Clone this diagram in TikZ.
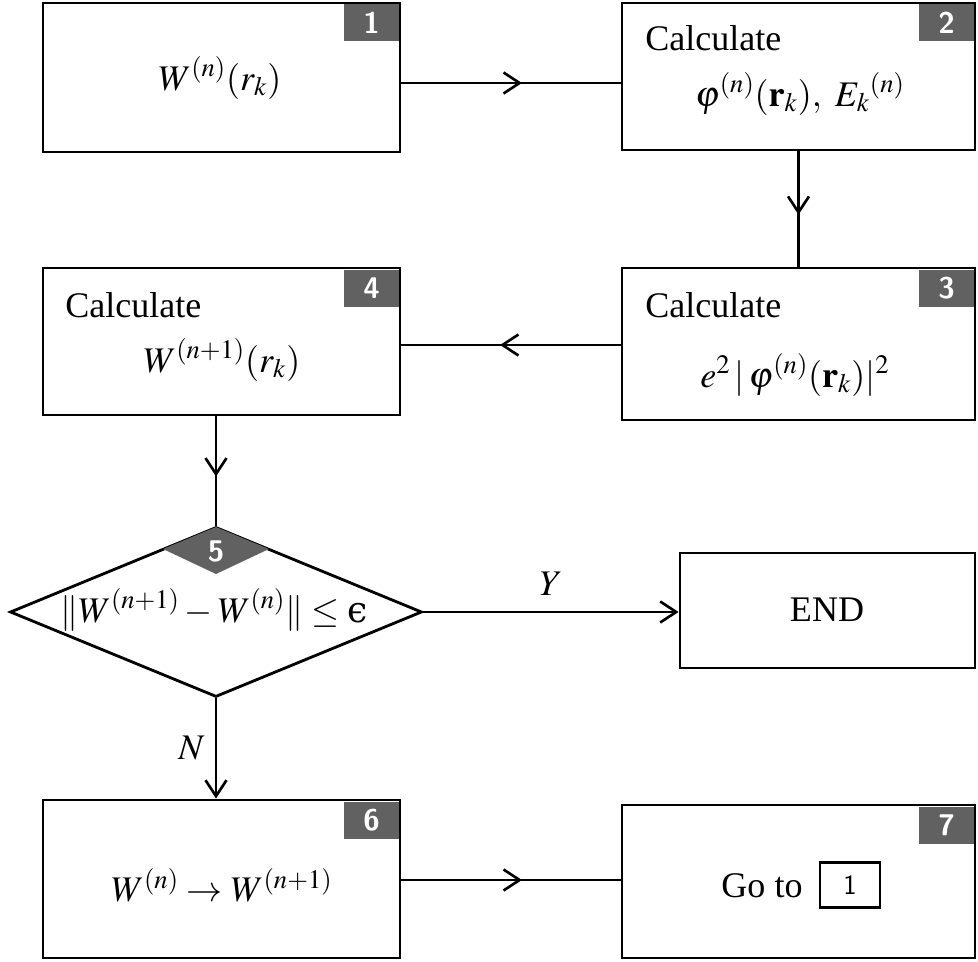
\documentclass[tikz,border=0pt]{standalone}
\usepackage{mathptmx}
\usepackage{fontspec}
\setmainfont{Liberation Serif}
\newfontfamily\dvserif{DejaVu Serif}
\usetikzlibrary{arrows.meta,decorations.markings,shapes.geometric}
\tikzset{
  box/.style={draw, line width=1.6pt, inner sep=0pt},
  badge/.style={fill=black!62, text=white, inner sep=0pt, minimum width=1.1cm, minimum height=0.74cm,
    font=\sffamily\bfseries\fontsize{17}{17}\selectfont},
  txt/.style={inner sep=0pt, font=\fontsize{20.5}{24}\selectfont},
  conn/.style={line width=1.6pt},
  midarrow/.style={conn, postaction={decorate}, decoration={markings,
    mark=at position 0.55 with {\arrow{Straight Barb[length=3.2mm,width=4.2mm,line width=1.5pt]}}}},
  endarrow/.style={conn, -{Straight Barb[length=3.2mm,width=4.2mm,line width=1.5pt]}},
}
\begin{document}
\begin{tikzpicture}[x=0.02cm,y=-0.02cm]
\useasboundingbox (0,0) rectangle (978,962);
% boxes
\node[box, minimum width=7.14cm, minimum height=2.98cm] (b1) at (221.5,77.5) {};
\node[box, minimum width=7.06cm, minimum height=2.94cm] (b2) at (798.5,76.5) {};
\node[box, minimum width=7.06cm, minimum height=3.04cm] (b3) at (798.5,344) {};
\node[box, minimum width=7.14cm, minimum height=2.94cm] (b4) at (221.5,341.5) {};
\node[box, diamond, aspect=2.4, minimum width=8.24cm, minimum height=3.4cm] (d5) at (216,612) {};
\node[box, minimum width=5.9cm, minimum height=2.3cm] (end) at (827.5,610.5) {};
\node[box, minimum width=7.14cm, minimum height=3.16cm] (b6) at (221.5,879) {};
\node[box, minimum width=7.06cm, minimum height=3.06cm] (b7) at (798.5,881.5) {};
% badge for the decision
\fill[black!62] (216,527) -- (269,549) -- (216,574) -- (163,549) -- cycle;
\node[inner sep=0pt, text=white, font=\sffamily\bfseries\fontsize{17}{17}\selectfont] (n5) at (216,551) {5};
% badges
\node[badge, anchor=north east] (n1) at ([xshift=-0.04cm,yshift=-0.04cm]b1.north east) {1};
\node[badge, anchor=north east] (n2) at ([xshift=-0.04cm,yshift=-0.04cm]b2.north east) {2};
\node[badge, anchor=north east] (n3) at ([xshift=-0.04cm,yshift=-0.06cm]b3.north east) {3};
\node[badge, anchor=north east] (n4) at ([xshift=-0.04cm,yshift=-0.06cm]b4.north east) {4};
\node[badge, anchor=north east] (n6) at ([xshift=-0.04cm,yshift=-0.06cm]b6.north east) {6};
\node[badge, anchor=north east] (n7) at ([xshift=-0.04cm,yshift=-0.06cm]b7.north east) {7};
% texts
\node[txt] (t1) at (220,78) {$W^{(n)}(r_k)$};
\node[txt, anchor=west] (c2) at (645,38) {Calculate};
\node[txt] (t2) at (800,94) {$\varphi^{(n)}(\mathbf{r}_k),\ E_k{}^{(n)}$};
\node[txt, anchor=west] (c3) at (645,305) {Calculate};
\node[txt] (t3) at (795,375) {$e^2\,|\,\varphi^{(n)}(\mathbf{r}_k)|^2$};
\node[txt, anchor=west] (c4) at (65,305) {Calculate};
\node[txt] (t4) at (222,360) {$W^{(n+1)}(r_k)$};
\node[txt] (t5) at (214,610) {$\|W^{(n+1)}-W^{(n)}\|\leq\mbox{\dvserif ϵ}$};
\node[txt] (tend) at (827,610) {END};
\node[txt] (t6) at (222,885) {$W^{(n)}\rightarrow W^{(n+1)}$};
\node[txt] (t7) at (762,886) {Go to};
\node[draw, line width=1.2pt, minimum width=1.2cm, minimum height=0.9cm, inner sep=0pt,
  font=\sffamily\fontsize{16}{16}\selectfont] (g7) at (850,885) {1};
% connectors
\draw[midarrow] (b1.east |- 0,83) -- (b2.west |- 0,83);
\draw[midarrow] (b2.south) -- (b3.north);
\draw[midarrow] (b3.west |- 0,345) -- (b4.east |- 0,345);
\draw[midarrow] (d5.north |- b4.south) -- (d5.north);
\draw[endarrow] (d5.east) -- (end.west |- d5.east) node[midway, above=0.3cm, txt] (ly) {$Y$};
\draw[endarrow] (d5.south) -- (d5.south |- b6.north) node[midway, left=0.2cm, txt] (ln) {$N$};
\draw[midarrow] (b6.east |- 0,880) -- (b7.west |- 0,880);
\end{tikzpicture}
\end{document}
